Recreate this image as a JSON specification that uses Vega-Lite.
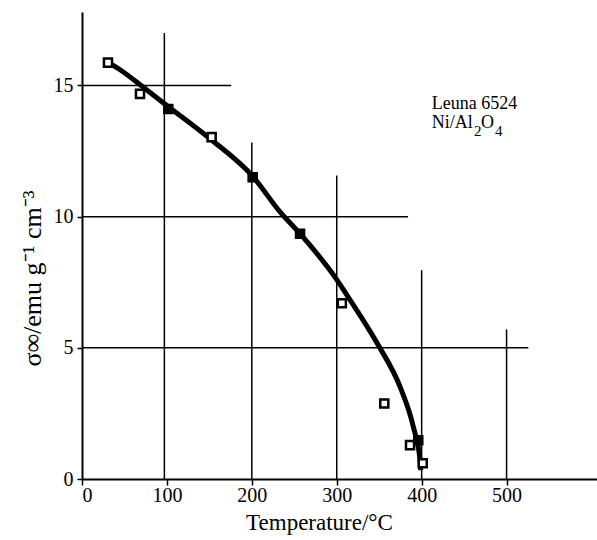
{
  "$schema": "https://vega.github.io/schema/vega-lite/v6.json",
  "width": 515,
  "height": 467,
  "autosize": "none",
  "padding": {"left": 82, "top": 12, "right": 0, "bottom": 61},
  "background": "white",
  "config": {"view": {"stroke": null}, "font": "Liberation Serif"},
  "encoding": {
    "x": {"field": "x", "type": "quantitative",
      "scale": {"domain": [0, 606.5], "nice": false, "zero": false},
      "axis": {"values": [0, 100, 200, 300, 400, 500], "grid": false, "domainColor": "black", "domainWidth": 2,
        "tickColor": "black", "tickSize": 6, "tickWidth": 1.5, "labelFont": "Liberation Serif", "labelFontSize": 20,
        "labelColor": "black", "labelPadding": 0, "title": "Temperature/°C", "titleFont": "Liberation Serif",
        "titleFontSize": 23, "titleFontWeight": "normal", "titleColor": "black", "titleX": 237, "titleY": 43,
        "titleBaseline": "middle", "titleAlign": "center"}},
    "y": {"field": "y", "type": "quantitative",
      "scale": {"domain": [0, 17.8], "nice": false, "zero": false},
      "axis": {"values": [0, 5, 10, 15], "grid": false, "domainColor": "black", "domainWidth": 2,
        "tickColor": "black", "tickSize": 5, "tickWidth": 1.5, "labelFont": "Liberation Serif", "labelFontSize": 20,
        "labelColor": "black", "labelPadding": 4, "title": "σ∞/emu g⁻¹ cm⁻³", "titleFont": "Liberation Serif",
        "titleFontSize": 26, "titleFontWeight": "normal", "titleColor": "black", "titleX": -50, "titleY": 266,
        "titleBaseline": "middle", "titleAlign": "center", "titleAngle": -90}}
  },
  "layer": [
    {
      "data": {"values": [
        {"x": 0, "x2": 175.7, "y": 15, "y2": 15},
        {"x": 0, "x2": 384, "y": 10, "y2": 10},
        {"x": 0, "x2": 525.6, "y": 5, "y2": 5},
        {"x": 97, "x2": 97, "y": 0, "y2": 17.0},
        {"x": 200, "x2": 200, "y": 0, "y2": 12.83},
        {"x": 300, "x2": 300, "y": 0, "y2": 11.57},
        {"x": 400, "x2": 400, "y": 0, "y2": 7.96},
        {"x": 500, "x2": 500, "y": 0, "y2": 5.7}
      ]},
      "mark": {"type": "rule", "color": "black", "strokeWidth": 1.5},
      "encoding": {"x2": {"field": "x2"}, "y2": {"field": "y2"}}
    },
    {
      "data": {"values": [
        {"x": 32.2, "y": 15.85},
        {"x": 44.8, "y": 15.6},
        {"x": 72.2, "y": 14.93},
        {"x": 99.8, "y": 14.24},
        {"x": 150.8, "y": 12.97},
        {"x": 201.8, "y": 11.51},
        {"x": 233.2, "y": 10.18},
        {"x": 256.8, "y": 9.35},
        {"x": 300, "y": 7.6},
        {"x": 311.8, "y": 7.02},
        {"x": 349, "y": 5.1},
        {"x": 374.6, "y": 3.51},
        {"x": 390.2, "y": 1.99},
        {"x": 398.1, "y": 0.72},
        {"x": 398.9, "y": 0.34}
      ]},
      "mark": {"type": "line", "color": "black", "strokeWidth": 5, "interpolate": "monotone"}
    },
    {
      "data": {"values": [
        {"x": 30.6, "y": 15.87, "kind": "open"},
        {"x": 68.3, "y": 14.68, "kind": "open"},
        {"x": 101.6, "y": 14.1, "kind": "filled"},
        {"x": 152.7, "y": 13.03, "kind": "open"},
        {"x": 201, "y": 11.5, "kind": "filled"},
        {"x": 256.8, "y": 9.35, "kind": "filled"},
        {"x": 306, "y": 6.7, "kind": "open"},
        {"x": 356, "y": 2.88, "kind": "open"},
        {"x": 386.3, "y": 1.29, "kind": "open"},
        {"x": 396, "y": 1.48, "kind": "filled"},
        {"x": 401.3, "y": 0.6, "kind": "open"}
      ]},
      "mark": {"type": "point", "shape": "square", "strokeWidth": 2.5, "size": 65, "opacity": 1},
      "encoding": {
        "fill": {"field": "kind", "type": "nominal", "scale": {"domain": ["open", "filled"], "range": ["white", "black"]}, "legend": null},
        "stroke": {"value": "black"}
      }
    },
    {
      "data": {"values": [
        {"x": 412, "y": 14.31, "label": "Leuna 6524"},
        {"x": 412, "y": 13.56, "label": "Ni/Al"},
        {"x": 470, "y": 13.56, "label": "O"}
      ]},
      "mark": {"type": "text", "align": "left", "baseline": "middle", "font": "Liberation Serif", "fontSize": 18, "color": "black"},
      "encoding": {"text": {"field": "label"}}
    },
    {
      "data": {"values": [
        {"x": 461.5, "y": 13.25, "label": "2"},
        {"x": 486.5, "y": 13.25, "label": "4"}
      ]},
      "mark": {"type": "text", "align": "left", "baseline": "middle", "font": "Liberation Serif", "fontSize": 15, "color": "black"},
      "encoding": {"text": {"field": "label"}}
    }
  ]
}
